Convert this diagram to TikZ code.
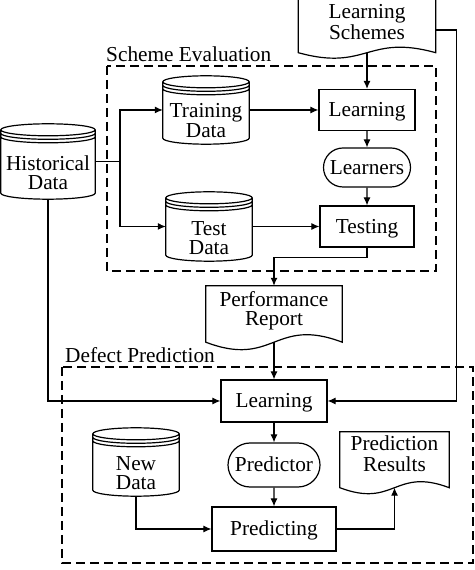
\documentclass[tikz,border=0pt]{standalone}
\usepackage{fontspec}
\setmainfont{Liberation Serif}
\usetikzlibrary{arrows.meta,shapes.misc,calc}
\newcommand\tx[2]{\raisebox{#1}[\height][\depth]{\begin{tabular}{@{}c@{}}#2\end{tabular}}}
\newcommand\drawcyl[1]{%
  \draw[shapeline] let \p1=(#1.north west), \p2=(#1.south east), \n1={(\x2-\x1)/2} in
    (\x1,\y1-6pt) -- (\x1,\y2+6pt) arc[start angle=180,end angle=360,x radius=\n1,y radius=6pt] -- (\x2,\y1-6pt)
    (\x1+\n1,\y1-6pt) ellipse[x radius=\n1,y radius=6pt]
    (\x1,\y1-9.5pt) arc[start angle=180,end angle=360,x radius=\n1,y radius=6pt]
    (\x1,\y1-13pt) arc[start angle=180,end angle=360,x radius=\n1,y radius=6pt];}
\newcommand\drawdoc[2]{%
  \draw[shapeline] let \p1=(#1.north west), \p2=(#1.south east), \n1={\x2-\x1}, \n2={3.46*#2} in
    (\x1,\y2) -- (\x1,\y1) -- (\x2,\y1) -- (\x2,\y2)
    .. controls (\x1+0.5*\n1,\y2+\n2) and (\x1+0.5*\n1,\y2-\n2) .. (\x1,\y2) -- cycle;}
\begin{document}
\begin{tikzpicture}[x=1pt,y=1pt,
  every node/.style={font=\fontsize{21.3}{19.5}\selectfont, inner sep=0pt, align=center},
  shapeline/.style={line width=1.2pt},
  boxnode/.style={draw, shapeline},
  roundnode/.style={draw, shapeline, rounded rectangle},
  cylnode/.style={},
  docnode/.style={},
  frame/.style={line width=1.3pt, dash pattern=on 9pt off 5pt},
  conn/.style={line width=1.1pt},
  arr/.style={conn, -{Latex[length=8pt,width=7pt]}}]
\useasboundingbox (0,0) rectangle (474,570);

% frames
\draw[frame] (107,504) rectangle (436,299);
\draw[frame] (62,203) rectangle (473,7);
\node[anchor=base west] (selab) at (106,508) {Scheme Evaluation};
\node[anchor=base west] (dplab) at (65,207) {Defect Prediction};

% nodes
\node[cylnode, minimum width=94pt, minimum height=75pt] (hi) at (48,408.5) {\tx{-14pt}{Historical\\Data}};
\node[cylnode, minimum width=86pt, minimum height=68pt] (tr) at (206,460) {\tx{-13.5pt}{Training\\Data}};
\node[cylnode, minimum width=86pt, minimum height=69pt] (te) at (209,343.5) {\tx{-14.5pt}{Test\\Data}};
\node[cylnode, minimum width=86pt, minimum height=68pt] (nd) at (136,108) {\tx{-14pt}{New\\Data}};

\node[boxnode, minimum width=96pt, minimum height=41pt] (l1) at (367,460) {\tx{-2.5pt}{Learning}};
\node[roundnode, minimum width=87pt, minimum height=39pt] (lrn) at (367,402.5) {\tx{-2.5pt}{Learners}};
\node[boxnode, minimum width=94pt, minimum height=41pt] (tst) at (367,343.5) {\tx{-2.5pt}{Testing}};

\node[docnode, minimum width=137pt, minimum height=53pt] (ls) at (367,544) {\tx{1pt}{Learning\\Schemes}};
\node[docnode, minimum width=136pt, minimum height=56pt] (pr) at (274,256) {\tx{2.5pt}{Performance\\Report}};
\node[docnode, minimum width=109pt, minimum height=55.5pt] (res) at (394.5,110.25) {\tx{3pt}{Prediction\\Results}};

\node[boxnode, minimum width=106pt, minimum height=42pt] (l2) at (274,169) {\tx{-2.5pt}{Learning}};
\node[roundnode, minimum width=92pt, minimum height=44pt] (prd) at (274,105) {\tx{-2.5pt}{Predictor}};
\node[boxnode, minimum width=124pt, minimum height=44pt] (pg) at (274,41) {\tx{-2.5pt}{Predicting}};

\drawcyl{hi}\drawcyl{tr}\drawcyl{te}\drawcyl{nd}
\drawdoc{ls}{5.5}\drawdoc{pr}{7.5}\drawdoc{res}{6}

% connectors
\coordinate (br) at (120,408.5);
\draw[conn] (hi.east) -- (br);
\draw[arr] (br) |- (tr.west);
\draw[arr] (br) |- (te.west);
\draw[arr] (tr.east) -- (l1.west);
\draw[arr] (te.east) -- (tst.west);
\draw[arr] (ls.south) -- (l1.north);
\draw[arr] (l1) -- (lrn);
\draw[arr] (lrn) -- (tst);
\draw[arr] (tst.south) -- ++(0,-10) -| (pr.north);
\draw[arr] (pr.south) -- (l2.north);
\draw[arr] (hi.south) |- (l2.west);
\draw[arr] ([yshift=-4pt]ls.east) -- ++(21,0) |- (l2.east);
\draw[arr] (l2) -- (prd);
\draw[arr] (prd) -- (pg);
\draw[arr] (nd.south) |- (pg.west);
\draw[arr] (pg.east) -| (res.south);
\end{tikzpicture}
\end{document}
